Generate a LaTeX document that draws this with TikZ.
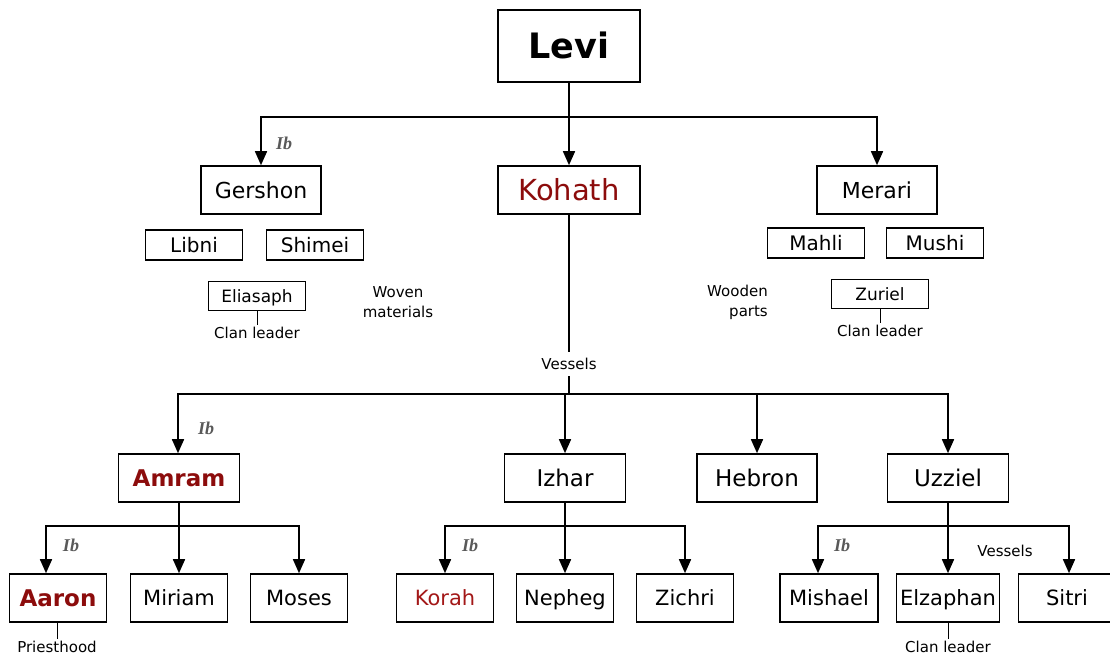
\documentclass[tikz,border=0pt]{standalone}
\usepackage{fontspec}
\setmainfont{DejaVu Sans}
\newfontfamily\ibfont{Liberation Serif}
\usepackage{xcolor}
\usepackage{tikz}
\usetikzlibrary{positioning,arrows.meta}
\definecolor{kohred}{HTML}{8C0C0C}
\definecolor{korahred}{HTML}{A31818}

\begin{document}
\begin{tikzpicture}[x=1pt,y=-1pt,
    every node/.style={inner sep=0pt},
    person/.style={draw,line width=1.6pt,minimum width=#1,minimum height=48pt,font=\fontsize{21}{24}\selectfont,text height=15.3pt,text depth=0pt},
    person/.default=97pt,
    big/.style={font=\fontsize{23}{26}\selectfont,text height=16.8pt,text depth=0pt},
    boldbig/.style={font=\fontsize{23}{26}\selectfont\bfseries,text height=16.8pt,text depth=0pt,text=kohred},
    mid/.style={font=\fontsize{22}{26}\selectfont,text height=16pt,text depth=0pt},
    clan/.style={draw,line width=1.6pt,minimum width=97pt,minimum height=30pt,font=\fontsize{20}{24}\selectfont,text height=14.6pt,text depth=0pt},
    leader/.style={draw,line width=1.6pt,minimum width=97pt,minimum height=29pt,font=\fontsize{17}{20}\selectfont,text height=12.4pt,text depth=0pt},
    note/.style={inner sep=2pt,font=\fontsize{15}{20}\selectfont,align=center},
    ib/.style={font=\ibfont\bfseries\itshape\fontsize{18}{20}\selectfont,text=black!65},
    desc/.style={-{Triangle[width=12pt,length=14pt]},line width=1.6pt},
    tie/.style={line width=1.6pt}]
    \useasboundingbox (0,0) rectangle (1110,655);
    \node[draw,line width=1.6pt,minimum width=142pt,minimum height=72pt,font=\fontsize{35}{40}\selectfont\bfseries,text height=25.5pt,text depth=0pt] (levi) at (569,46) {Levi};
    \node[person=120pt,mid] (gershon) at (261,190) {Gershon};
    \node[person=142pt,font=\fontsize{29}{32}\selectfont,text height=21.2pt,text depth=0pt,text=kohred] (kohath) at (569,190) {Kohath};
    \node[person=120pt,mid] (merari) at (877,190) {Merari};
    \node[clan] (libni) at (194,245) {Libni};
    \node[clan] (shimei) at (315,245) {Shimei};
    \node[clan] (mahli) at (816,243) {Mahli};
    \node[clan] (mushi) at (935,243) {Mushi};
    \node[leader] (eliasaph) at (257,296) {Eliasaph};
    \node[leader] (zuriel) at (880,294) {Zuriel};
    \node[note] (eliasaphrole) at (257,333) {Clan leader};
    \node[note] (zurielrole) at (880,331) {Clan leader};
    \node[note] (woven) at (398,302) {Woven\\materials};
    \node[note,align=right,anchor=east] (wooden) at (770,302) {Wooden\\parts};
    \node[note,inner sep=6pt] (kohvessels) at (569,364) {Vessels};
    \node[person=121pt,boldbig] (amram) at (179,478) {Amram};
    \node[person=121pt,big] (izhar) at (565,478) {Izhar};
    \node[person=120pt,big] (hebron) at (757,478) {Hebron};
    \node[person=121pt,big] (uzziel) at (948,478) {Uzziel};
    \node[person,boldbig] (aaron) at (58,598) {Aaron};
    \node[person] (miriam) at (179,598) {Miriam};
    \node[person] (moses) at (299,598) {Moses};
    \node[person,text=korahred] (korah) at (445,598) {Korah};
    \node[person] (nepheg) at (565,598) {Nepheg};
    \node[person] (zichri) at (685,598) {Zichri};
    \node[person=98pt] (mishael) at (829,598) {Mishael};
    \node[person=103pt] (elzaphan) at (948,598) {Elzaphan};
    \node[person] (sitri) at (1067,598) {Sitri};
    \node[note] (aaronrole) at (57,647) {Priesthood};
    \node[note] (elzaphanrole) at (948,647) {Clan leader};
    \node[note] (uzzvessels) at (1005,551) {Vessels};
    \coordinate (levibar) at (569,117);
    \coordinate (kohbar) at (569,394);
    \coordinate (amrambar) at (179,526);
    \coordinate (izharbar) at (565,526);
    \coordinate (uzzbar) at (948,526);
    \draw[tie] (levi) -- (levibar);
    \draw[desc] (levibar) -| (gershon);
    \draw[desc] (levibar) -- (kohath);
    \draw[desc] (levibar) -| (merari);
    \draw[tie] (kohath) -- (kohvessels);
    \draw[tie] (kohvessels) -- (kohbar);
    \draw[desc] (kohbar) -| ([xshift=-1pt]amram.north);
    \draw[desc] (kohbar) -| (izhar);
    \draw[desc] (kohbar) -| (hebron);
    \draw[desc] (kohbar) -| (uzziel);
    \draw[tie] (amram) -- (amrambar);
    \draw[desc] (amrambar) -| ([xshift=-12pt]aaron.north);
    \draw[desc] (amrambar) -- (miriam);
    \draw[desc] (amrambar) -| (moses);
    \draw[tie] (izhar) -- (izharbar);
    \draw[desc] (izharbar) -| (korah);
    \draw[desc] (izharbar) -- (nepheg);
    \draw[desc] (izharbar) -| (zichri);
    \draw[tie] (uzziel) -- (uzzbar);
    \draw[desc] (uzzbar) -| ([xshift=-11pt]mishael.north);
    \draw[desc] (uzzbar) -- (elzaphan);
    \draw[desc] (uzzbar) -| ([xshift=2pt]sitri.north);
    \draw[line width=1pt] (eliasaph) -- (eliasaphrole);
    \draw[line width=1pt] (zuriel) -- (zurielrole);
    \draw[line width=1pt] (aaron.south -| aaronrole) -- (aaronrole);
    \draw[line width=1pt] (elzaphan) -- (elzaphanrole);
    \node[ib] (ibgershon) at (284,143) {Ib};
    \node[ib] (ibamram) at (206,428) {Ib};
    \node[ib] (ibaaron) at (71,545) {Ib};
    \node[ib] (ibkorah) at (470,545) {Ib};
    \node[ib] (ibmishael) at (842,545) {Ib};
\end{tikzpicture}
\end{document}
